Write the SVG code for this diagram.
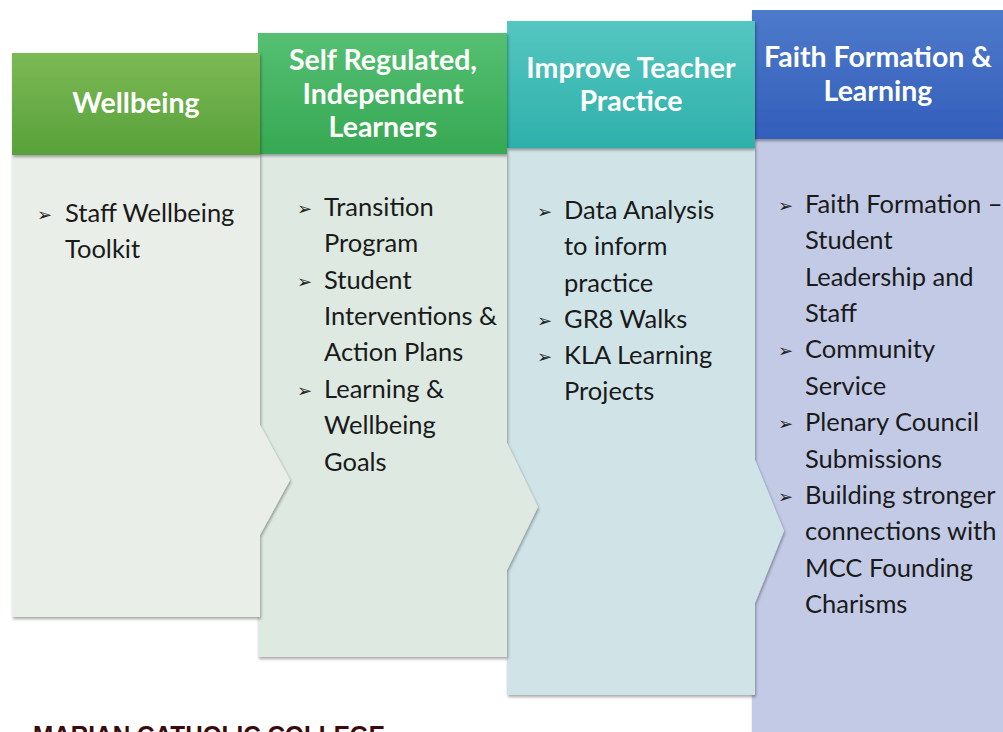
<svg xmlns="http://www.w3.org/2000/svg" width="1003" height="732" viewBox="0 0 1003 732">
  <style>
    .hd { font-family: Lato, "Open Sans", sans-serif; font-weight: bold; font-size: 28.5px; fill: #ffffff; text-anchor: middle; }
    .tx { font-family: Lato, "Open Sans", sans-serif; font-size: 25.5px; fill: #1a1a1a; }
    .bl { font-family: "DejaVu Sans", sans-serif; font-size: 18px; fill: #222222; }
    .ttl { font-family: "Liberation Sans", Arial, sans-serif; font-weight: bold; font-size: 25px; fill: #3b0a0c; }
  </style>
  <defs>
    <filter id="sh" x="-5%" y="-5%" width="112%" height="112%">
      <feDropShadow dx="1" dy="2" stdDeviation="1.5" flood-color="#000000" flood-opacity="0.35"/>
    </filter>
    <linearGradient id="g1" x1="0" y1="0" x2="0" y2="1">
      <stop offset="0" stop-color="#7cb955"/>
      <stop offset="1" stop-color="#58a13a"/>
    </linearGradient>
    <linearGradient id="g2" x1="0" y1="0" x2="0" y2="1">
      <stop offset="0" stop-color="#55c072"/>
      <stop offset="1" stop-color="#37a853"/>
    </linearGradient>
    <linearGradient id="g3" x1="0" y1="0" x2="0" y2="1">
      <stop offset="0" stop-color="#55c6c1"/>
      <stop offset="1" stop-color="#2eb0aa"/>
    </linearGradient>
    <linearGradient id="g4" x1="0" y1="0" x2="0" y2="1">
      <stop offset="0" stop-color="#4e7acb"/>
      <stop offset="1" stop-color="#335eba"/>
    </linearGradient>
  </defs>

  <rect width="1003" height="732" fill="#ffffff"/>

  <!-- columns are stacked right to left so each chevron overlaps its neighbour -->
  <g id="faith-formation">
    <path d="M752,139 H1010 V740 H752 Z" fill="#c3cae6" filter="url(#sh)"/>
    <rect x="752" y="10" width="258" height="129" fill="url(#g4)" filter="url(#sh)"/>
    <text class="hd" x="878" y="67">Faith Formation &amp;</text>
    <text class="hd" x="878" y="101">Learning</text>
    <text class="bl" x="778" y="212">➢</text>
    <text class="tx" x="805" y="213">Faith Formation –</text>
    <text class="tx" x="805" y="249">Student</text>
    <text class="tx" x="805" y="286">Leadership and</text>
    <text class="tx" x="805" y="322">Staff</text>
    <text class="bl" x="778" y="357">➢</text>
    <text class="tx" x="805" y="358">Community</text>
    <text class="tx" x="805" y="395">Service</text>
    <text class="bl" x="778" y="430">➢</text>
    <text class="tx" x="805" y="431">Plenary Council</text>
    <text class="tx" x="805" y="468">Submissions</text>
    <text class="bl" x="778" y="503">➢</text>
    <text class="tx" x="805" y="504">Building stronger</text>
    <text class="tx" x="805" y="540">connections with</text>
    <text class="tx" x="805" y="577">MCC Founding</text>
    <text class="tx" x="805" y="613">Charisms</text>
  </g>

  <g id="teacher-practice">
    <path d="M507,148 H755 V460 L784,531 L755,603 V695 H507 Z" fill="#d0e4e8" filter="url(#sh)"/>
    <rect x="507" y="21" width="248" height="127" fill="url(#g3)" filter="url(#sh)"/>
    <text class="hd" x="631" y="78">Improve Teacher</text>
    <text class="hd" x="631" y="111">Practice</text>
    <text class="bl" x="537" y="218">➢</text>
    <text class="tx" x="564" y="219">Data Analysis</text>
    <text class="tx" x="564" y="255">to inform</text>
    <text class="tx" x="564" y="292">practice</text>
    <text class="bl" x="537" y="327">➢</text>
    <text class="tx" x="564" y="328">GR8 Walks</text>
    <text class="bl" x="537" y="363">➢</text>
    <text class="tx" x="564" y="364">KLA Learning</text>
    <text class="tx" x="564" y="400">Projects</text>
  </g>

  <g id="independent-learners">
    <path d="M258,154 H507 V443 L538,507 L507,570 V657 H258 Z" fill="#dde9e1" filter="url(#sh)"/>
    <rect x="258" y="33" width="249" height="121" fill="url(#g2)" filter="url(#sh)"/>
    <text class="hd" x="383" y="70">Self Regulated,</text>
    <text class="hd" x="383" y="104">Independent</text>
    <text class="hd" x="383" y="137">Learners</text>
    <text class="bl" x="297" y="215">➢</text>
    <text class="tx" x="324" y="216">Transition</text>
    <text class="tx" x="324" y="252">Program</text>
    <text class="bl" x="297" y="288">➢</text>
    <text class="tx" x="324" y="289">Student</text>
    <text class="tx" x="324" y="325">Interventions &amp;</text>
    <text class="tx" x="324" y="361">Action Plans</text>
    <text class="bl" x="297" y="397">➢</text>
    <text class="tx" x="324" y="398">Learning &amp;</text>
    <text class="tx" x="324" y="434">Wellbeing</text>
    <text class="tx" x="324" y="471">Goals</text>
  </g>

  <g id="wellbeing">
    <path d="M12,155 H260 V425 L290,480 L260,535 V617 H12 Z" fill="#e9efe8" filter="url(#sh)"/>
    <rect x="12" y="53" width="248" height="102" fill="url(#g1)" filter="url(#sh)"/>
    <text class="hd" x="136" y="113">Wellbeing</text>
    <text class="bl" x="37" y="221">➢</text>
    <text class="tx" x="65" y="222">Staff Wellbeing</text>
    <text class="tx" x="65" y="258">Toolkit</text>
  </g>

  <g id="connectors"></g>

  <text class="ttl" x="33" y="744" textLength="352" lengthAdjust="spacingAndGlyphs">MARIAN CATHOLIC COLLEGE</text>
</svg>
